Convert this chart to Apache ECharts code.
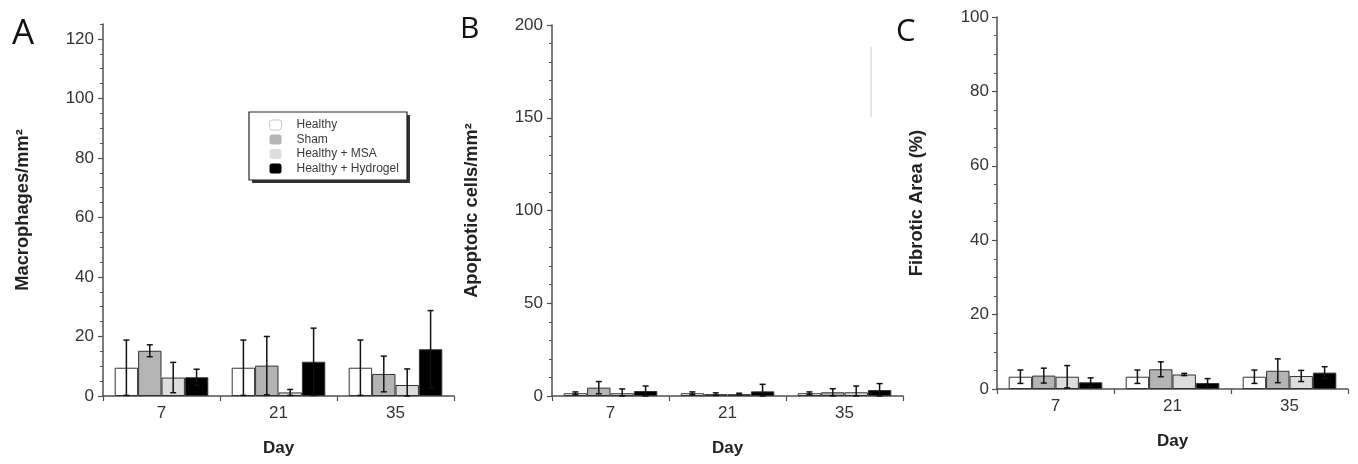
<!DOCTYPE html>
<html>
<head>
<meta charset="utf-8">
<script src="https://cdn.jsdelivr.net/npm/echarts@6/dist/echarts.min.js"></script>
<style>
html,body{margin:0;padding:0;background:#fff;}
#c{width:1358px;height:464px;}
</style>
</head>
<body>
<div id="c"></div>
<script>
// ---------- data ----------
const days = ['7', '21', '35'];
const groups = ['Healthy', 'Sham', 'Healthy + MSA', 'Healthy + Hydrogel'];

// Panel A: Macrophages/mm2
const macroHealthy = [9.5, 9.5, 9.5];
const macroHealthySD = [9.3, 9.3, 9.3];
const macroSham = [15.2, 10.2, 7.4];
const macroShamSD = [2.0, 9.8, 6.0];
const macroMSA = [6.2, 1.2, 3.7];
const macroMSASD = [5.1, 1.0, 5.4];
const macroHydrogel = [6.3, 11.5, 15.7];
const macroHydrogelSD = [2.7, 11.3, 13.0];

// Panel B: Apoptotic cells/mm2
const apoHealthy = [1.5, 1.5, 1.5];
const apoHealthySD = [0.7, 0.7, 0.7];
const apoSham = [4.5, 1.0, 2.0];
const apoShamSD = [3.3, 0.7, 1.9];
const apoMSA = [1.5, 1.0, 2.0];
const apoMSASD = [2.3, 0.5, 3.4];
const apoHydrogel = [2.7, 2.5, 3.2];
const apoHydrogelSD = [2.7, 3.8, 3.5];

// Panel C: Fibrotic Area (%)
const fibHealthy = [3.3, 3.3, 3.3];
const fibHealthySD = [1.8, 1.8, 1.8];
const fibSham = [3.6, 5.3, 4.9];
const fibShamSD = [2.0, 2.0, 3.2];
const fibMSA = [3.3, 3.9, 3.5];
const fibMSASD = [3.0, 0.3, 1.5];
const fibHydrogel = [1.8, 1.6, 4.4];
const fibHydrogelSD = [1.2, 1.2, 1.6];

// axis ticks
const ticksA = [0, 20, 40, 60, 80, 100, 120];
const ticksB = [0, 50, 100, 150, 200];
const ticksC = [0, 20, 40, 60, 80, 100];

// ---------- build ----------
const FONT = '"Liberation Sans", Arial, sans-serif';
const colors = ['#ffffff', '#b4b4b4', '#dddddd', '#000000'];
const AXIS = '#505050';

const panels = [
  {means: [macroHealthy, macroSham, macroMSA, macroHydrogel],
   sds: [macroHealthySD, macroShamSD, macroMSASD, macroHydrogelSD],
   ticks: ticksA, max: 125, interval: 20, minor: 5, name: 'Macrophages/mm²',
   grid: {left: 103, top: 24, width: 351, height: 372}, labelMargin: 9},
  {means: [apoHealthy, apoSham, apoMSA, apoHydrogel],
   sds: [apoHealthySD, apoShamSD, apoMSASD, apoHydrogelSD],
   ticks: ticksB, max: 200, interval: 50, minor: 10, name: 'Apoptotic cells/mm²',
   grid: {left: 552, top: 25, width: 351, height: 371}, labelMargin: 9},
  {means: [fibHealthy, fibSham, fibMSA, fibHydrogel],
   sds: [fibHealthySD, fibShamSD, fibMSASD, fibHydrogelSD],
   ticks: ticksC, max: 100, interval: 20, minor: 5, name: 'Fibrotic Area (%)',
   grid: {left: 997, top: 17, width: 351, height: 372}, labelMargin: 8}
];

const grids = [], xAxes = [], yAxes = [], series = [];
panels.forEach((p, pi) => {
  grids.push(Object.assign({containLabel: false}, p.grid));
  xAxes.push({
    type: 'category', gridIndex: pi, data: days, boundaryGap: true,
    name: 'Day', nameLocation: 'middle', nameGap: 44,
    nameTextStyle: {fontFamily: FONT, fontSize: 17, fontWeight: 'bold', color: '#222'},
    axisLine: {lineStyle: {color: AXIS, width: 1.5}},
    axisTick: {show: true, length: 5, lineStyle: {color: AXIS, width: 1.2}},
    axisLabel: {fontFamily: FONT, fontSize: 17, color: '#333', margin: 9},
    splitLine: {show: false}
  });
  // main y axis (labels + major ticks)
  yAxes.push({
    type: 'value', gridIndex: pi, min: 0, max: p.max, interval: p.interval,
    name: p.name, nameLocation: 'middle', nameRotate: 90, nameGap: 71,
    nameTextStyle: {fontFamily: FONT, fontSize: 18.3, fontWeight: 'bold', color: '#222'},
    axisLine: {show: true, lineStyle: {color: AXIS, width: 1.5}},
    axisTick: {show: true, length: 5, customValues: p.ticks, lineStyle: {color: AXIS, width: 1.2}},
    axisLabel: {fontFamily: FONT, fontSize: 17, color: '#333', margin: p.labelMargin,
                customValues: p.ticks},
    splitLine: {show: false}
  });
  // minor tick axis
  yAxes.push({
    type: 'value', gridIndex: pi, min: 0, max: p.max, interval: p.minor,
    position: 'left',
    axisLine: {show: false}, axisLabel: {show: false}, splitLine: {show: false},
    axisTick: {show: true, length: 3, lineStyle: {color: AXIS, width: 1}}
  });
  const yIdx = pi * 2;
  groups.forEach((g, gi) => {
    series.push({
      name: g, type: 'bar', xAxisIndex: pi, yAxisIndex: yIdx,
      data: p.means[gi],
      barGap: '0%', barCategoryGap: '20%',
      itemStyle: {color: colors[gi], borderColor: '#333', borderWidth: 1},
      emphasis: {disabled: true}
    });
  });
  const errData = [];
  groups.forEach((g, gi) => {
    p.means[gi].forEach((m, ci) => {
      errData.push([ci, gi, Math.max(0, m - p.sds[gi][ci]), m + p.sds[gi][ci]]);
    });
  });
  series.push({
    type: 'custom', xAxisIndex: pi, yAxisIndex: yIdx, z: 10,
    data: errData,
    encode: {x: 0, y: [2, 3]},
    renderItem: function (params, api) {
      const ci = api.value(0), gi = api.value(1);
      const lo = api.coord([ci, api.value(2)]);
      const hi = api.coord([ci, api.value(3)]);
      const catW = api.size([1, 0])[0];
      const barW = catW * 0.8 / 4;
      const x = lo[0] + (gi - 1.5) * barW;
      const cap = 3;
      const style = {stroke: '#111', lineWidth: 1.5};
      return {
        type: 'group',
        children: [
          {type: 'line', shape: {x1: x, y1: lo[1], x2: x, y2: hi[1]}, style: style},
          {type: 'line', shape: {x1: x - cap, y1: hi[1], x2: x + cap, y2: hi[1]}, style: style},
          {type: 'line', shape: {x1: x - cap, y1: lo[1], x2: x + cap, y2: lo[1]}, style: style}
        ]
      };
    }
  });
});

const legendData = groups.map((g, gi) => ({
  name: g,
  itemStyle: gi === 0 ? {borderColor: '#c8c8c8', borderWidth: 1} : {borderWidth: 0}
}));

const chart = echarts.init(document.getElementById('c'), null, {renderer: 'canvas'});
chart.setOption({
  animation: false,
  backgroundColor: '#ffffff',
  grid: grids,
  xAxis: xAxes,
  yAxis: yAxes,
  legend: {
    data: legendData, orient: 'vertical', left: 249, top: 113,
    itemWidth: 12, itemHeight: 10, itemGap: 2.5,
    padding: [6, 10, 6, 20],
    backgroundColor: 'transparent', borderWidth: 0,
    selectedMode: false,
    textStyle: {fontFamily: FONT, fontSize: 12, color: '#3a3a3a', lineHeight: 12, padding: [0, 0, 0, 10]}
  },
  graphic: [
    {type: 'rect', z: 1, shape: {x: 252, y: 115, width: 158, height: 68}, style: {fill: '#333'}},
    {type: 'rect', z: 2, shape: {x: 249, y: 112, width: 158, height: 68}, style: {fill: '#fff', stroke: '#222', lineWidth: 1.2}},
    {type: 'text', left: 12, top: 17, style: {text: 'A', font: '35px "Open Sans", sans-serif', fill: '#111'}},
    {type: 'text', left: 460, top: 14, style: {text: 'B', font: '30px "Open Sans", sans-serif', fill: '#111'}},
    {type: 'text', left: 896, top: 17, style: {text: 'C', font: '31px "Open Sans", sans-serif', fill: '#111'}},
    {type: 'line', shape: {x1: 871, y1: 47, x2: 871, y2: 117}, style: {stroke: '#e6e6e6', lineWidth: 2}}
  ],
  series: series
});
</script>
</body>
</html>
